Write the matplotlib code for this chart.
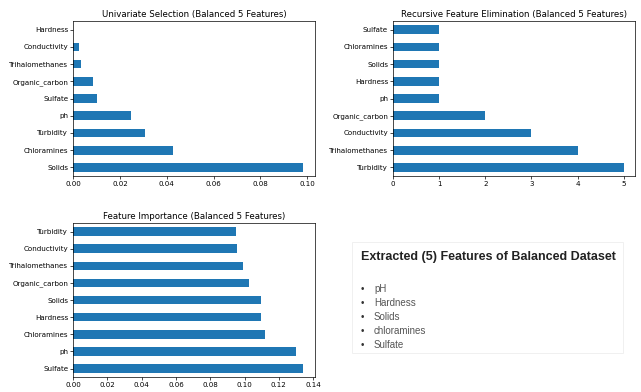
import matplotlib.pyplot as plt
import matplotlib.patches as mpatches

# univariate selection scores
uni_features = ['Solids', 'Chloramines', 'Turbidity', 'ph', 'Sulfate',
                'Organic_carbon', 'Trihalomethanes', 'Conductivity', 'Hardness']
uni_scores = [0.0983, 0.0426, 0.0306, 0.0247, 0.0103, 0.0086, 0.0035, 0.0027, 0.0]

# recursive feature elimination ranking
rfe_features = ['Turbidity', 'Trihalomethanes', 'Conductivity', 'Organic_carbon',
                'ph', 'Hardness', 'Solids', 'Chloramines', 'Sulfate']
rfe_ranks = [5, 4, 3, 2, 1, 1, 1, 1, 1]

# feature importance
imp_features = ['Sulfate', 'ph', 'Chloramines', 'Hardness', 'Solids',
                'Organic_carbon', 'Trihalomethanes', 'Conductivity', 'Turbidity']
imp_scores = [0.1342, 0.1299, 0.1121, 0.1098, 0.1098, 0.1024, 0.0992, 0.0953, 0.0950]

# final picks
picked = ['pH', 'Hardness', 'Solids', 'chloramines', 'Sulfate']

fig = plt.figure(figsize=(6.41, 3.92), dpi=100)

ax1 = fig.add_axes([0.114, 0.551, 0.377, 0.395])
ax2 = fig.add_axes([0.613, 0.551, 0.378, 0.395])
ax3 = fig.add_axes([0.114, 0.038, 0.377, 0.393])


def draw(ax, names, vals, title, fmt=None):
    ax.barh(range(len(vals)), vals, height=0.5, color='#1f77b4')
    ax.set_yticks(range(len(vals)))
    ax.set_yticklabels(names)
    ax.set_ylim(-0.5, len(vals) - 0.5)
    ax.set_title(title, fontsize=6.2, pad=3)
    ax.tick_params(labelsize=5.1, length=2, width=0.5, pad=1.5)
    for s in ax.spines.values():
        s.set_linewidth(0.5)
    if fmt:
        ax.xaxis.set_major_formatter(plt.FormatStrFormatter(fmt))


draw(ax1, uni_features, uni_scores, 'Univariate Selection (Balanced 5 Features)', '%.2f')
draw(ax2, rfe_features, rfe_ranks, 'Recursive Feature Elimination (Balanced 5 Features)')
draw(ax3, imp_features, imp_scores, 'Feature Importance (Balanced 5 Features)', '%.2f')
ax1.set_xticks([0, 0.02, 0.04, 0.06, 0.08, 0.10])
ax3.set_xticks([0, 0.02, 0.04, 0.06, 0.08, 0.10, 0.12, 0.14])

# text box with the picked features
box = mpatches.Rectangle((352 / 641, 1 - 353 / 392), 271 / 641, 111 / 392,
                         transform=fig.transFigure, facecolor='white',
                         edgecolor='#eeeeee', linewidth=0.6)
fig.patches.append(box)
fig.text(361 / 641, 1 - 257 / 392, 'Extracted (5) Features of Balanced Dataset',
         fontsize=9, fontweight='bold', family='Liberation Sans', color='#222222',
         va='center')
for i, name in enumerate(picked):
    y = 1 - (289 + i * 14) / 392
    fig.text(361 / 641, y, '\u2022', fontsize=7, color='#333333', va='center',
             family='Liberation Sans')
    fig.text(374 / 641, y, name, fontsize=7, color='#555555', va='center',
             family='Liberation Sans')

fig.savefig('out.png', dpi=100)
